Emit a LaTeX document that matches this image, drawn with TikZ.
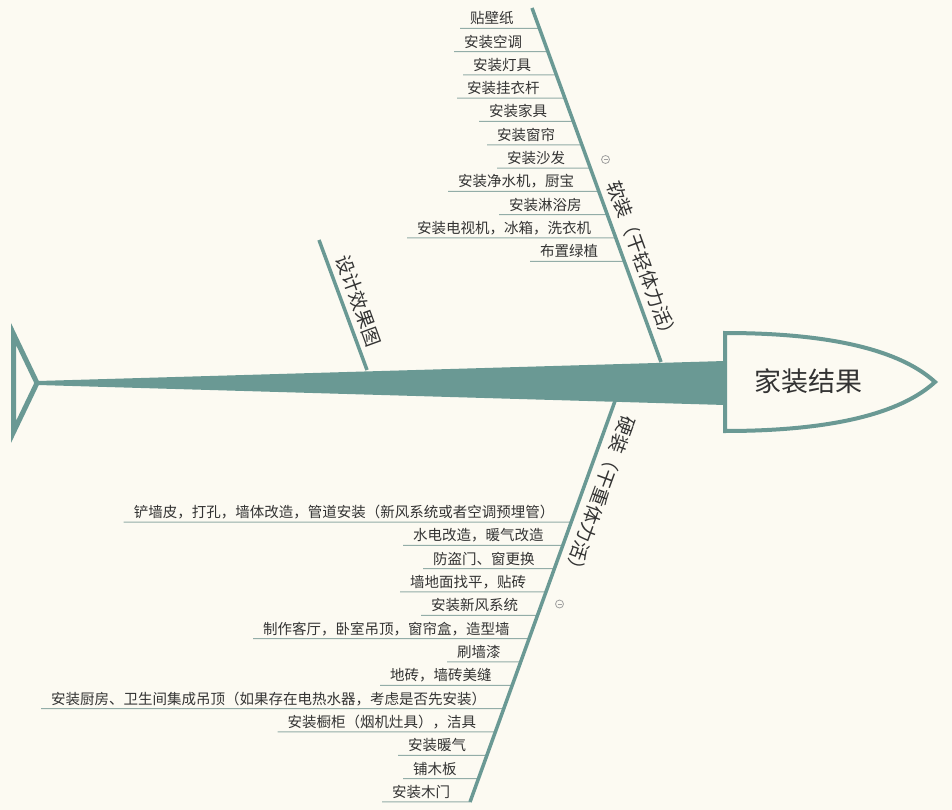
\documentclass[tikz,border=0pt]{standalone}
\usepackage{fontspec}
\setmainfont{Noto Sans CJK SC}
\usetikzlibrary{calc}
\definecolor{fishteal}{HTML}{6A9994}
\definecolor{paper}{HTML}{FCFAF2}
\definecolor{ink}{HTML}{333333}
\definecolor{ulinec}{HTML}{93ADA8}
\definecolor{iconc}{HTML}{A0A0A0}
\begin{document}
\begin{tikzpicture}[x=1pt,y=-1pt,
  leaf/.style={font=\fontsize{14.5}{16}\selectfont, text=ink, inner sep=0pt, anchor=base west},
  underl/.style={draw=ulinec, line width=1pt},
  branchline/.style={draw=fishteal, line width=3.5pt},
  blabel/.style={font=\fontsize{19}{21}\selectfont, text=ink, inner sep=0pt},
  collapse/.style={draw=iconc, line width=0.8pt, circle, minimum size=8pt, inner sep=0pt}
]
\fill[paper] (0,0) rectangle (952,810);
\useasboundingbox (0,0) rectangle (952,810);

% branch end points
\coordinate (sA) at (532,8);
\coordinate (sB) at (661,362);
\coordinate (hA) at (615,401);
\coordinate (hB) at (470,802);
\coordinate (dA) at (319,240);
\coordinate (dB) at (367,370);

% upper (soft) leaves
\foreach \lx/\t [count=\i] in {460/贴壁纸, 454/安装空调, 463/安装灯具, 457/安装挂衣杆, 479/安装家具, 487/安装窗帘, 497/安装沙发, 448/安装净水机，厨宝, 499/安装淋浴房, 407/安装电视机，冰箱，洗衣机, 530/布置绿植}{
  \pgfmathsetmacro{\yy}{28.3+23.3*(\i-1)}
  \pgfmathsetmacro{\tt}{(\yy-8)/354}
  \coordinate (sl\i) at (\lx,\yy);
  \coordinate (sr\i) at ($(sA)!\tt!(sB)$);
  \draw[underl] (sl\i) -- (sr\i);
  \node[leaf] (su\i) at (\lx+10,\yy-4.5) {\t};
}

% lower (hard) leaves
\foreach \lx/\t [count=\i] in {123.6/铲墙皮，打孔，墙体改造，管道安装（新风系统或者空调预埋管）, 403/水电改造，暖气改造, 423/防盗门、窗更换, 400/墙地面找平，贴砖, 421/安装新风系统, 253/制作客厅，卧室吊顶，窗帘盒，造型墙, 447/刷墙漆, 380/地砖，墙砖美缝, 41/安装厨房、卫生间集成吊顶（如果存在电热水器，考虑是否先安装）, 277.5/安装橱柜（烟机灶具），洁具, 398/安装暖气, 403/铺木板, 382/安装木门}{
  \pgfmathsetmacro{\yy}{522+23.33*(\i-1)}
  \pgfmathsetmacro{\tt}{(\yy-401)/401}
  \coordinate (hl\i) at (\lx,\yy);
  \coordinate (hr\i) at ($(hA)!\tt!(hB)$);
  \draw[underl] (hl\i) -- (hr\i);
  \node[leaf] (hu\i) at (\lx+10,\yy-4.5) {\t};
}

% branch lines
\draw[branchline] (sA) -- (sB);
\draw[branchline] (hA) -- (hB);
\draw[branchline] (dA) -- (dB);

% spine
\coordinate (sp1) at (38,381);
\coordinate (sp2) at (725,361);
\coordinate (sp3) at (725,405);
\coordinate (sp4) at (38,385);
\fill[fishteal] (sp1) -- (sp2) -- (sp3) -- (sp4) -- cycle;

% tail
\coordinate (t1) at (13.5,334);
\coordinate (t2) at (37,383);
\coordinate (t3) at (13.5,432);
\draw[fishteal, line width=5pt, line join=miter] (t1) -- (t2) -- (t3) -- cycle;

% head
\coordinate (h1) at (725,333);
\coordinate (h2) at (935,382);
\coordinate (h3) at (725,431);
\draw[fishteal, line width=4pt, fill=paper, line join=miter]
  (h1) .. controls (830,333) and (900,350) .. (h2)
       .. controls (900,414) and (830,431) .. (h3) -- cycle;
\node[font=\fontsize{27}{30}\selectfont, text=ink, inner sep=0pt] (headtext) at (808,381) {家装结果};

% branch labels
\node[blabel, rotate=-70] (softlbl) at (643,262) {软装（干轻体力活）};
\node[blabel, rotate=-110] (hardlbl) at (600,497) {硬装（干重体力活）};
\node[blabel, rotate=-70] (designlbl) at (359,301) {设计效果图};

% collapse icons
\node[collapse] (c1) at (605.5,159.5) {};
\draw[iconc, line width=0.8pt] ($(c1.center)+(-2,0)$) -- ($(c1.center)+(2,0)$);
\node[collapse] (c2) at (559.5,604) {};
\draw[iconc, line width=0.8pt] ($(c2.center)+(-2,0)$) -- ($(c2.center)+(2,0)$);
\end{tikzpicture}
\end{document}
